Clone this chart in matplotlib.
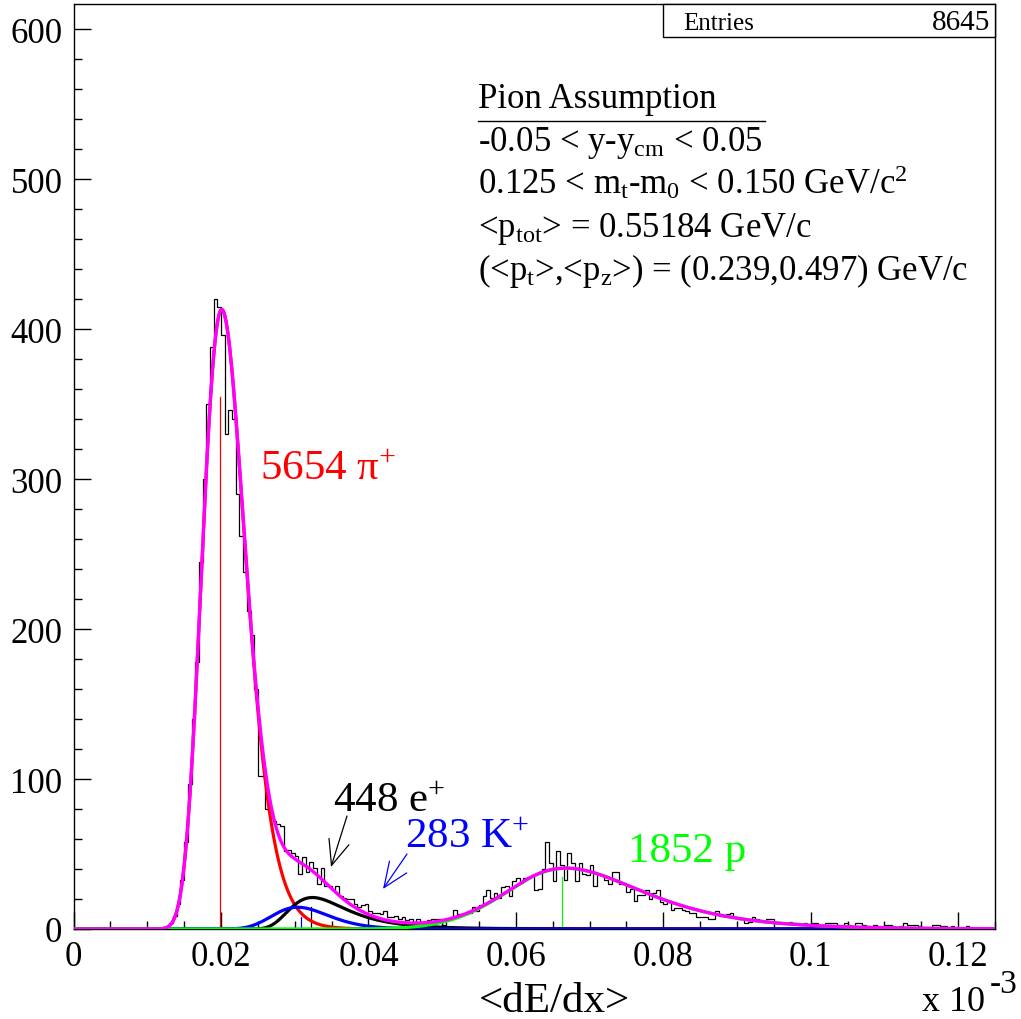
import numpy as np
import matplotlib
matplotlib.use("Agg")
import matplotlib.pyplot as plt
from matplotlib.patches import Rectangle
from matplotlib.lines import Line2D
from matplotlib.ticker import MultipleLocator, FuncFormatter

plt.rcParams['font.family'] = ['Liberation Serif', 'DejaVu Serif']
plt.rcParams['mathtext.fontset'] = 'custom'
plt.rcParams['mathtext.rm'] = 'Liberation Serif'
plt.rcParams['mathtext.it'] = 'Liberation Serif:italic'

W, H = 1021, 1020

# histogram: 250 bins of <dE/dx> between 0 and 0.125 (x 10^-3)
X_MIN, X_MAX = 0.0, 0.125
counts = [
    0, 0, 0, 0, 0, 0, 0, 0, 0, 0,
    0, 0, 0, 0, 0, 0, 0, 0, 0, 0,
    0, 0, 0, 1, 1, 2, 4, 9, 17, 33,
    58, 97, 140, 178, 245, 300, 350, 388, 420, 415,
    396, 330, 346, 340, 290, 262, 238, 212, 196, 160,
    102, 102, 80, 78, 72, 70, 69, 52, 53, 51,
    49, 37, 48, 38, 45, 41, 30, 41, 29, 29,
    26, 29, 22, 21, 20, 20, 17, 15, 16, 17,
    12, 11, 11, 10, 12, 8, 8, 9, 7, 8,
    6, 7, 5, 7, 4, 4, 6, 7, 7, 7,
    3, 7, 8, 13, 10, 10, 10, 11, 15, 12,
    16, 22, 26, 21, 24, 21, 28, 29, 22, 32,
    34, 31, 34, 35, 36, 26, 27, 40, 58, 44,
    32, 52, 43, 33, 51, 44, 32, 44, 37, 36,
    43, 29, 37, 36, 33, 30, 38, 38, 30, 30,
    25, 27, 19, 23, 23, 26, 20, 24, 26, 18,
    17, 18, 13, 14, 14, 13, 12, 11, 11, 8,
    8, 8, 7, 7, 12, 9, 9, 10, 11, 8,
    7, 7, 4, 5, 8, 7, 6, 5, 7, 7,
    4, 4, 4, 4, 5, 4, 4, 3, 4, 3,
    4, 4, 3, 3, 4, 4, 4, 3, 1, 4,
    3, 2, 4, 4, 3, 2, 1, 3, 2, 1,
    3, 3, 2, 1, 2, 4, 3, 3, 3, 2,
    1, 0, 1, 3, 3, 2, 2, 1, 2, 1,
    1, 0, 2, 1, 0, 1, 0, 1, 0, 0,
]

# fitted components (pi, e, K, p): amplitude, mean, width = s0 + slope*(x-mean)
fit_colors = ['#ff0000', '#000000', '#0000ff', '#00ff00']
fit_amp = [413, 21, 14.5, 40.5]
fit_mean = [0.0201, 0.0324, 0.0304, 0.0668]
fit_sig0 = [0.0029, 0.0038, 0.0038, 0.0090]
fit_slope = [0.10, 0.20, 0.10, 0.15]
fit_sigmin = [0.0005, 0.0015, 0.0015, 0.0080]

# expected-position markers
marker_x = [0.0198, 0.0322, 0.0309, 0.0662]
marker_h = [355, 15, 8, 35]
marker_colors = ['#ff0000', '#000000', '#0000ff', '#00ff00']

yield_labels = ['5654 π$^{+}$', '448 e$^{+}$', '283 K$^{+}$', '1852 p']

info_lines = [
    r'-0.05 < $\mathregular{y\text{-}y_{cm}}$ < 0.05',
    r'0.125 < $\mathregular{m_{t}\text{-}m_{0}}$ < 0.150 GeV/c$^{2}$',
    r'<$\mathregular{p_{tot}}$> = 0.55184 GeV/c',
    r'(<$\mathregular{p_{t}}$>,<$\mathregular{p_{z}}$>) = (0.239,0.497) GeV/c',
]


def component(x, i):
    sig = np.maximum(fit_sig0[i] + fit_slope[i] * (x - fit_mean[i]), fit_sigmin[i])
    return fit_amp[i] * np.exp(-0.5 * ((x - fit_mean[i]) / sig) ** 2)


def px(x, y):
    return x / W, 1 - y / H


fig = plt.figure(figsize=(W / 100, H / 100), dpi=100)
ax = fig.add_axes([73.6 / W, (H - 930) / H, (995 - 73.6) / W, (930 - 5) / H])

edges = np.linspace(X_MIN, X_MAX, len(counts) + 1)
ax.stairs(counts, edges, color='black', lw=0.9, baseline=0, zorder=2)

for mx, mh, mc in zip(marker_x, marker_h, marker_colors):
    ax.plot([mx, mx], [0, mh], color=mc, lw=0.9, zorder=3)

xs = np.linspace(X_MIN, X_MAX, 1500)
total = np.zeros_like(xs)
for i in range(4):
    comp = component(xs, i)
    total += comp
    ax.plot(xs, comp, color=fit_colors[i], lw=2.3, zorder=4 + i)
ax.plot(xs, total, color='#ff00ff', lw=2.4, zorder=9)

ax.set_xlim(X_MIN, X_MAX)
ax.set_ylim(0, 616.7)

ax.xaxis.set_major_locator(MultipleLocator(0.02))
ax.xaxis.set_minor_locator(MultipleLocator(0.005))
ax.yaxis.set_major_locator(MultipleLocator(100))
ax.yaxis.set_minor_locator(MultipleLocator(20))
ax.xaxis.set_major_formatter(FuncFormatter(lambda v, p: f'{v:g}'))
ax.tick_params(which='both', direction='in', top=False, right=False, width=1, labelsize=25)
ax.tick_params(which='major', length=12, pad=8)
ax.tick_params(which='minor', length=6)
for sp in ax.spines.values():
    sp.set_linewidth(1)

# info block
fig.text(*px(478, 108), 'Pion Assumption', fontsize=25, va='baseline', ha='left')
fig.add_artist(Line2D([478 / W, 765 / W], [1 - 122 / H, 1 - 122 / H], color='black', lw=1))
for k, line in enumerate(info_lines):
    fig.text(*px(478, 151 + 43 * k), line, fontsize=25, va='baseline', ha='left')

# yields
fig.text(*px(260, 480), yield_labels[0], fontsize=31, color=fit_colors[0], va='baseline')
fig.text(*px(333, 812), yield_labels[1], fontsize=31, color=fit_colors[1], va='baseline')
fig.text(*px(405, 848), yield_labels[2], fontsize=31, color=fit_colors[2], va='baseline')
fig.text(*px(628, 862), yield_labels[3], fontsize=31, color=fit_colors[3], va='baseline')

arrow_style = '->,head_length=1.8,head_width=0.75'
ax.annotate('', xy=px(331, 868), xytext=px(347, 817), xycoords='figure fraction',
            arrowprops=dict(arrowstyle=arrow_style, color='black', lw=0.9, shrinkA=0, shrinkB=0))
ax.annotate('', xy=px(383, 890), xytext=px(407, 855), xycoords='figure fraction',
            arrowprops=dict(arrowstyle=arrow_style, color='#0000ff', lw=0.9, shrinkA=0, shrinkB=0))

# axis title
fig.text(*px(554, 1012), '<dE/dx>', fontsize=31, ha='center', va='baseline')
fig.text(*px(985, 1011), 'x 10', fontsize=26, ha='right', va='baseline')
fig.text(*px(990, 993), '-3', fontsize=24, ha='left', va='baseline')

# stats box
fig.add_artist(Rectangle(px(663, 38), (995 - 663) / W, 33 / H, facecolor='white',
                         edgecolor='black', lw=1, transform=fig.transFigure, zorder=10))
fig.text(*px(683, 30), 'Entries', fontsize=18, va='baseline', zorder=11)
fig.text(*px(990, 30), '8645', fontsize=21, va='baseline', ha='right', zorder=11)

fig.savefig('out.png', dpi=100)
